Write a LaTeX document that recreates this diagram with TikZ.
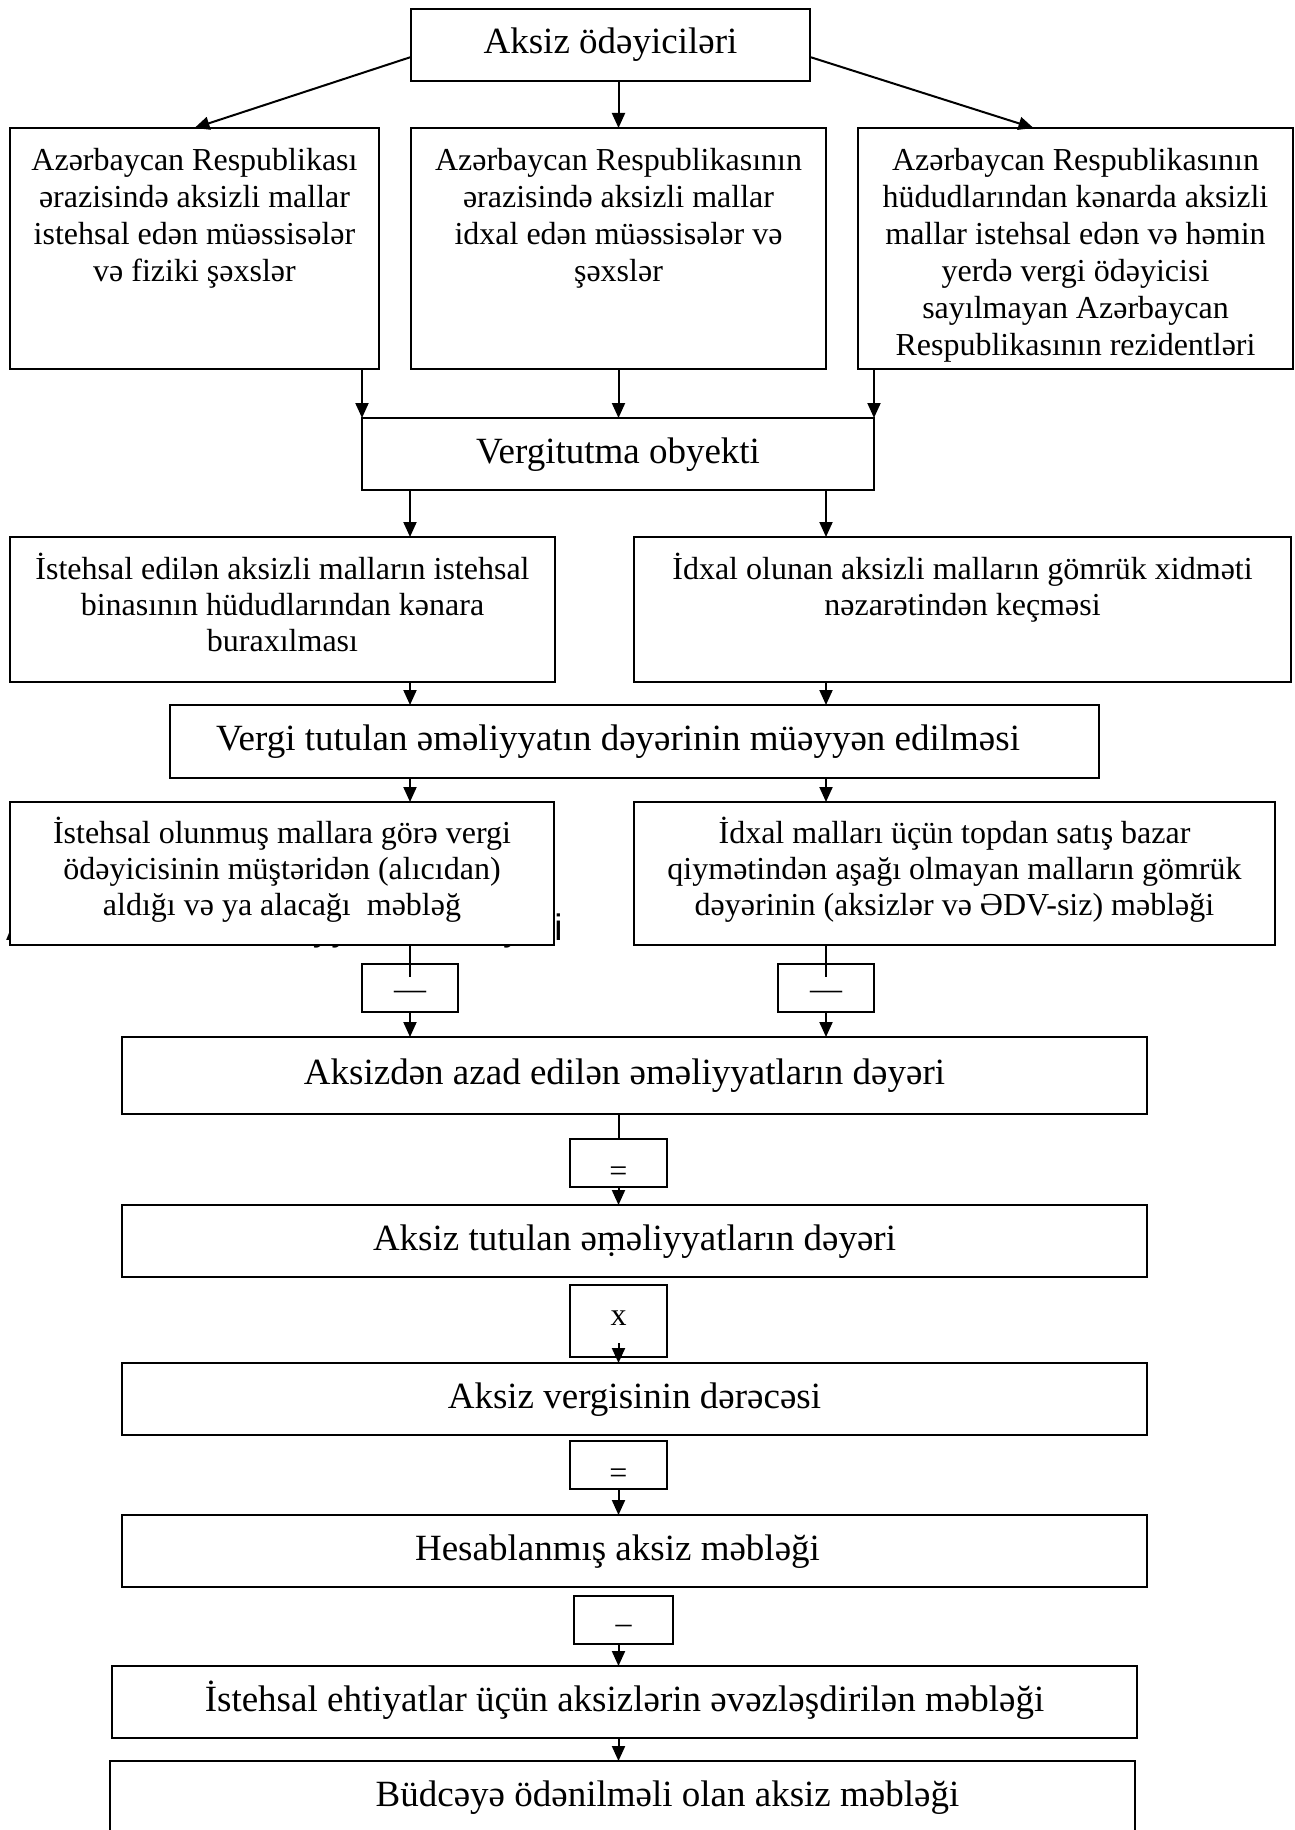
\documentclass[tikz,border=0pt]{standalone}
\usepackage{fontspec}
\setmainfont{Liberation Serif}
\newfontfamily\arialfont{Liberation Sans}
\usepackage{tikz}
\usetikzlibrary{arrows.meta,positioning,calc}

\newcommand{\bigfont}{\fontsize{37}{44}\selectfont}
\newcommand{\medfont}{\fontsize{32}{36}\selectfont}

\begin{document}
\begin{tikzpicture}[
    x=1pt, y=-1pt,
    box/.style={rectangle, draw=black, line width=2pt, fill=white, inner sep=0pt, outer sep=0pt, align=center},
    mainbox/.style={box, font=\bigfont, text height=45pt, text depth=27pt, minimum width=1025pt},
    framebox/.style={box},
    boxtext/.style={font=\medfont, align=center, inner sep=0pt},
    opbox/.style={box, font=\medfont, minimum width=97pt},
    arrow/.style={line width=2pt, -{Triangle[length=15pt, width=13pt]}},
    link/.style={line width=2pt}
]
\useasboundingbox (0,0) rectangle (1294,1830);

% Payers
\node (payers) [mainbox, minimum width=399pt] at (610.5,45) {Aksiz ödəyiciləri};

% Kinds of payers
\node (p1) [framebox, minimum width=369pt, minimum height=241pt] at (194.5,248.5) {};
\node (p1text) [boxtext, font=\fontsize{32}{37}\selectfont, below=20pt of p1.north] {Azərbaycan Respublikası\\ ərazisində aksizli mallar\\ istehsal edən müəssisələr\\ və fiziki şəxslər};
\node (p2) [framebox, minimum width=415pt, minimum height=241pt] at (618.5,248.5) {};
\node (p2text) [boxtext, font=\fontsize{32}{37}\selectfont, below=20pt of p2.north] {Azərbaycan Respublikasının\\ ərazisində aksizli mallar\\ idxal edən müəssisələr və\\ şəxslər};
\node (p3) [framebox, minimum width=435pt, minimum height=241pt] at (1075.5,248.5) {};
\node (p3text) [boxtext, font=\fontsize{32}{37}\selectfont, below=20pt of p3.north] {Azərbaycan Respublikasının\\ hüdudlarından kənarda aksizli\\ mallar istehsal edən və həmin\\ yerdə vergi ödəyicisi\\ sayılmayan Azərbaycan\\ Respublikasının rezidentləri};

% Object
\node (obj) [mainbox, minimum width=512pt] at (618,454) {Vergitutma obyekti};

\node (r2l) [framebox, minimum width=545pt, minimum height=145pt] at (282.5,609.5) {};
\node (r2ltext) [boxtext, below=16pt of r2l.north] {İstehsal edilən aksizli malların istehsal\\ binasının hüdudlarından kənara\\ buraxılması};
\node (r2r) [framebox, minimum width=657pt, minimum height=145pt] at (962.5,609.5) {};
\node (r2rtext) [boxtext, below=16pt of r2r.north] {İdxal olunan aksizli malların gömrük xidməti\\ nəzarətindən keçməsi};

\node (vt) [mainbox, minimum width=929pt, minimum height=73pt] at (634.5,741.5) {Vergi tutulan əməliyyatın dəyərinin müəyyən edilməsi\hspace*{33pt}};

% Text left behind the left box
\node (ghost) [anchor=base west, inner sep=0pt, font=\arialfont\fontsize{36.8}{44}\selectfont] at (6,940) {Aksiz tutulan əməliyyatların dəyəri};

\node (r3l) [framebox, minimum width=544pt, minimum height=143pt] at (282,873.5) {};
\node (r3ltext) [boxtext, below=15pt of r3l.north] {İstehsal olunmuş mallara görə vergi\\ ödəyicisinin müştəridən (alıcıdan)\\ aldığı və ya alacağı\ \ məbləğ};
\node (r3r) [framebox, minimum width=641pt, minimum height=143pt] at (954.5,873.5) {};
\node (r3rtext) [boxtext, below=15pt of r3r.north] {İdxal malları üçün topdan satış bazar\\ qiymətindən aşağı olmayan malların gömrük\\ dəyərinin (aksizlər və ƏDV-siz) məbləği};

% Calculation chain
\node (minusL) [opbox, minimum width=96pt, text height=35pt, text depth=13pt] at (410,988) {—};
\node (minusR) [opbox, minimum width=96pt, text height=35pt, text depth=13pt] at (826,988) {—};
\node (exempt) [mainbox, minimum height=77pt] at (634.5,1075.5) {Aksizdən azad edilən əməliyyatların dəyəri\hspace*{20pt}};
\node (eq1) [opbox, text height=42pt, text depth=6pt] at (618.5,1163) {=};
\node (taxed) [mainbox] at (634.5,1241) {Aksiz tutulan əṃəliyyatların dəyəri};
\node (times) [opbox, text height=40pt, text depth=32pt] at (618.5,1321) {x};
\node (rate) [mainbox] at (634.5,1399) {Aksiz vergisinin dərəcəsi};
\node (eq2) [opbox, text height=42pt, text depth=6pt] at (618.5,1465) {=};
\node (computed) [mainbox] at (634.5,1551) {Hesablanmış aksiz məbləği\hspace*{34pt}};
\node (minus3) [opbox, minimum width=99pt, text height=37pt, text depth=11pt] at (623.5,1620) {–};
\node (reserves) [mainbox] at (624.5,1702) {İstehsal ehtiyatlar üçün aksizlərin əvəzləşdirilən məbləği};
\node (budget) [mainbox] at (622.5,1797) {\hspace*{90pt}Büdcəyə ödənilməli olan aksiz məbləği};

% Arrows
\coordinate (colL) at (410,0);
\coordinate (colR) at (826,0);
\draw[arrow] ([yshift=-12pt]payers.west) -- (p1.north);
\draw[arrow] (payers.south -| p2.north) -- (p2.north);
\draw[arrow] ([yshift=-12pt]payers.east) -- ([xshift=-42pt]p3.north);
\draw[arrow] (p1.south -| obj.west) -- (obj.north west);
\draw[arrow] (p2.south) -- (p2.south |- obj.north);
\draw[arrow] (p3.south -| obj.east) -- (obj.north east);
\draw[arrow] (obj.south -| colL) -- (r2l.north -| colL);
\draw[arrow] (obj.south -| colR) -- (r2r.north -| colR);
\draw[arrow] (r2l.south -| colL) -- (vt.north -| colL);
\draw[arrow] (r2r.south -| colR) -- (vt.north -| colR);
\draw[arrow] (vt.south -| colL) -- (r3l.north -| colL);
\draw[arrow] (vt.south -| colR) -- (r3r.north -| colR);
\draw[link] (r3l.south -| colL) -- ([yshift=-13pt]minusL.north);
\draw[link] (r3r.south -| colR) -- ([yshift=-13pt]minusR.north);
\draw[arrow] (minusL.south) -- (exempt.north -| minusL);
\draw[arrow] (minusR.south) -- (exempt.north -| minusR);
\draw[link] (exempt.south -| eq1) -- (eq1.north);
\draw[arrow] (eq1.south) -- (taxed.north -| eq1);
\draw[arrow] ([yshift=14pt]times.south) -- (rate.north -| times);
\draw[arrow] (eq2.south) -- (computed.north -| eq2);
\draw[arrow] (minus3.south -| eq2) -- (reserves.north -| eq2);
\draw[arrow] (reserves.south -| eq2) -- (budget.north -| eq2);

\end{tikzpicture}
\end{document}
